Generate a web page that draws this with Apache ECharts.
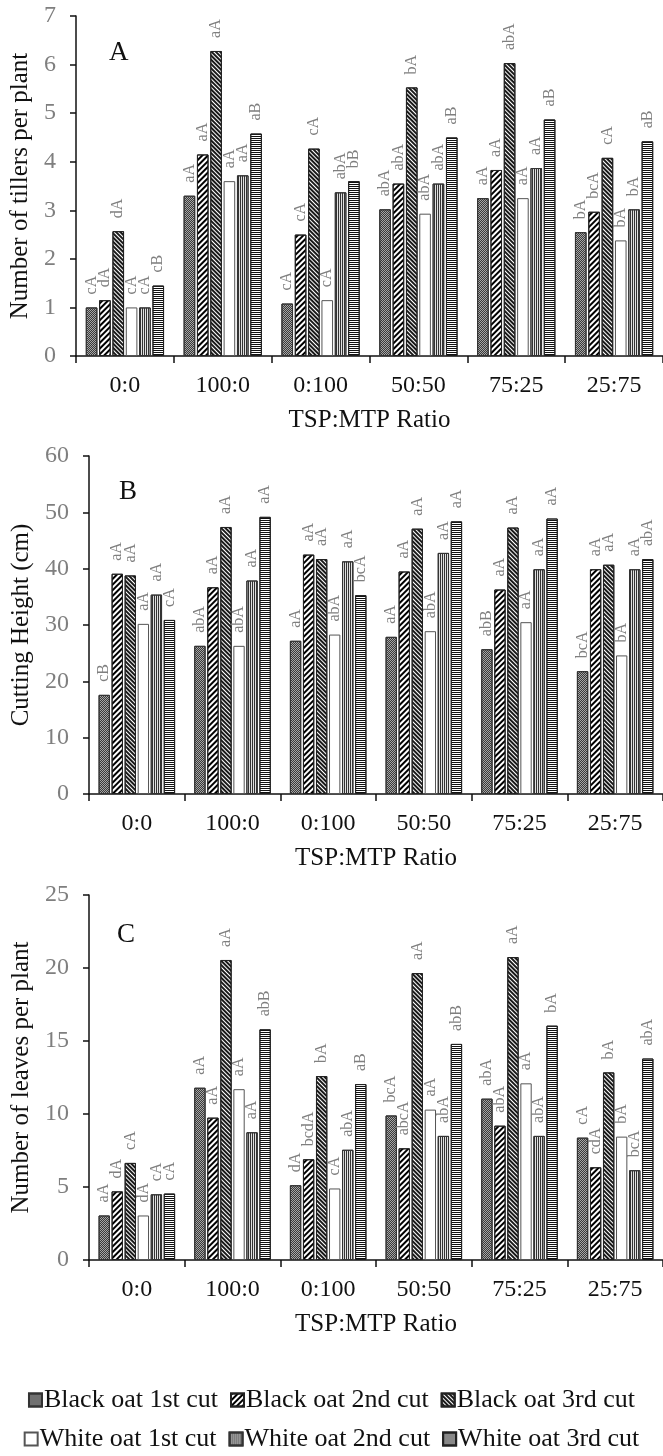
<!DOCTYPE html>
<html>
<head>
<meta charset="utf-8">
<script src="https://cdn.jsdelivr.net/npm/echarts@6/dist/echarts.min.js"></script>
</head>
<body style="margin: 0; background: #fff">
<div id="container" style="width: 663px; height: 1456px"></div>
<script type="text/javascript">
// category labels (TSP:MTP ratio) and series names
var categories = ['0:0', '100:0', '0:100', '50:50', '75:25', '25:75'];
var seriesNames = ['Black oat 1st cut', 'Black oat 2nd cut', 'Black oat 3rd cut',
                   'White oat 1st cut', 'White oat 2nd cut', 'White oat 3rd cut'];

// A - number of tillers per plant (one row per series)
var tillers = [
    [1.0, 3.3, 1.08, 3.02, 3.25, 2.55],
    [1.15, 4.15, 2.5, 3.55, 3.83, 2.97],
    [2.57, 6.28, 4.27, 5.53, 6.03, 4.08],
    [1.0, 3.6, 1.15, 2.93, 3.25, 2.38],
    [1.0, 3.72, 3.37, 3.55, 3.87, 3.02],
    [1.45, 4.58, 3.6, 4.5, 4.87, 4.42]
];
var tillersLetters = [
    ['cA', 'aA', 'cA', 'abA', 'aA', 'bA'],
    ['dA', 'aA', 'cA', 'abA', 'aA', 'bcA'],
    ['dA', 'aA', 'cA', 'bA', 'abA', 'cA'],
    ['cA', 'aA', 'cA', 'abA', 'aA', 'bA'],
    ['cA', 'aA', 'abA', 'abA', 'aA', 'bA'],
    ['cB', 'aB', 'bB', 'aB', 'aB', 'aB']
];

// B - cutting height (cm)
var height = [
    [17.6, 26.3, 27.2, 27.9, 25.7, 21.8],
    [39.1, 36.7, 42.5, 39.5, 36.3, 39.9],
    [38.8, 47.4, 41.7, 47.1, 47.3, 40.7],
    [30.2, 26.3, 28.3, 28.9, 30.5, 24.6],
    [35.4, 37.9, 41.3, 42.8, 39.9, 39.9],
    [30.9, 49.2, 35.3, 48.4, 48.9, 41.7]
];
var heightLetters = [
    ['cB', 'abA', 'aA', 'aA', 'abB', 'bcA'],
    ['aA', 'aA', 'aA', 'aA', 'aA', 'aA'],
    ['aA', 'aA', 'aA', 'aA', 'aA', 'aA'],
    ['aA', 'abA', 'abA', 'abA', 'aA', 'bA'],
    ['aA', 'aA', 'aA', 'aA', 'aA', 'aA'],
    ['cA', 'aA', 'bcA', 'aA', 'aA', 'abA']
];

// C - number of leaves per plant
var leaves = [
    [3.05, 11.8, 5.12, 9.9, 11.05, 8.38],
    [4.7, 9.75, 6.9, 7.65, 9.2, 6.35],
    [6.65, 20.55, 12.6, 19.65, 20.75, 12.85],
    [3.05, 11.7, 4.9, 10.3, 12.1, 8.45],
    [4.5, 8.75, 7.55, 8.5, 8.5, 6.15],
    [4.55, 15.8, 12.05, 14.8, 16.05, 13.8]
];
var leavesLetters = [
    ['aA', 'aA', 'dA', 'bcA', 'abA', 'cA'],
    ['dA', 'aA', 'bcdA', 'abcA', 'abA', 'cdA'],
    ['cA', 'aA', 'bA', 'aA', 'aA', 'bA'],
    ['dA', 'aA', 'cA', 'aA', 'aA', 'bA'],
    ['cA', 'aA', 'abA', 'abA', 'abA', 'bcA'],
    ['cA', 'abB', 'aB', 'abB', 'bA', 'abA']
];

var font = 'Liberation Serif, Times New Roman, serif';

// hatch patterns for each series
var fills = ['#a6a6a6', '#fff', '#fff', '#fff', '#e0e0e0', '#fff'];
var borders = ['#333', '#222', '#222', '#555', '#333', '#222'];
var decals = [
    {symbol: 'rect', symbolSize: 1, dashArrayX: [[1, 1], [0, 1, 1, 0]], dashArrayY: [1, 0], color: '#3a3a3a'},
    {symbol: 'rect', symbolSize: 1, dashArrayX: [1, 0], dashArrayY: [2, 2], rotation: -Math.PI / 4, color: '#000'},
    {symbol: 'rect', symbolSize: 1, dashArrayX: [1, 0], dashArrayY: [2, 1], rotation: Math.PI / 4, color: '#1a1a1a'},
    null,
    {symbol: 'rect', symbolSize: 1, dashArrayX: [1, 1], dashArrayY: [1, 0], color: '#333'},
    {symbol: 'rect', symbolSize: 1, dashArrayX: [1, 0], dashArrayY: [1, 1], color: '#111'}
];

var panels = [
    {values: tillers, letters: tillersLetters, name: 'Number of tillers per plant', max: 7, interval: 1,
     grid: {left: 76, right: -3, top: 16, height: 340}, nameGap: 41},
    {values: height, letters: heightLetters, name: 'Cutting Height (cm)', max: 60, interval: 10,
     grid: {left: 89, right: -1, top: 456, height: 338}, nameGap: 54},
    {values: leaves, letters: leavesLetters, name: 'Number of leaves per plant', max: 25, interval: 5,
     grid: {left: 89, right: 0, top: 895, height: 365}, nameGap: 54}
];

var grids = [], xAxes = [], yAxes = [], series = [];
panels.forEach(function (p, k) {
    grids.push(p.grid);
    xAxes.push({
        type: 'category', gridIndex: k, data: categories,
        name: 'TSP:MTP Ratio', nameLocation: 'middle', nameGap: 52,
        nameTextStyle: {fontFamily: font, fontSize: 25, color: '#111'},
        axisLine: {lineStyle: {color: '#111', width: 1.5}},
        axisTick: {show: true, length: 7, lineStyle: {color: '#111', width: 1.5}},
        axisLabel: {fontFamily: font, fontSize: 24, color: '#111', margin: 18, interval: 0},
        splitLine: {show: false}
    });
    yAxes.push({
        type: 'value', gridIndex: k, min: 0, max: p.max, interval: p.interval,
        name: p.name, nameLocation: 'middle', nameGap: p.nameGap,
        nameTextStyle: {fontFamily: font, fontSize: 25, color: '#111'},
        axisLine: {show: true, lineStyle: {color: '#111', width: 1.5}},
        axisTick: {show: true, length: 6, lineStyle: {color: '#111', width: 1.5}},
        axisLabel: {fontFamily: font, fontSize: 24, color: '#7f7f7f', margin: 20},
        splitLine: {show: false}
    });
    p.values.forEach(function (vals, i) {
        var letters = p.letters[i];
        series.push({
            name: seriesNames[i], type: 'bar', xAxisIndex: k, yAxisIndex: k,
            data: vals,
            barCategoryGap: '20%', barGap: '15%',
            itemStyle: {color: fills[i], borderColor: borders[i], borderWidth: 1, decal: decals[i] || undefined},
            label: {
                show: true, position: 'top', rotate: 90, align: 'left', verticalAlign: 'middle',
                distance: 13, fontFamily: font, fontSize: 16, color: '#7f7f7f',
                formatter: function (d) { return letters[d.dataIndex]; }
            },
            emphasis: {disabled: true},
            animation: false
        });
    });
});

var dom = document.getElementById('container');
var myChart = echarts.init(dom, null, {renderer: 'canvas'});
var letterStyle = {fontFamily: font, fontSize: 27, fontWeight: 'normal', color: '#111'};
var legendText = {fontFamily: font, fontSize: 26, color: '#111', padding: [0, 0, 0, -3]};
var option = {
    backgroundColor: '#fff',
    animation: false,
    title: [
        {text: 'A', left: 109, top: 39, padding: 0, textStyle: letterStyle},
        {text: 'B', left: 119, top: 478, padding: 0, textStyle: letterStyle},
        {text: 'C', left: 117, top: 921, padding: 0, textStyle: letterStyle}
    ],
    legend: [
        {data: seriesNames.slice(0, 3), icon: 'rect', left: 'center', top: 1382, itemWidth: 13, itemHeight: 13,
         itemGap: 12, textStyle: legendText},
        {data: seriesNames.slice(3), icon: 'rect', left: 'center', top: 1421, itemWidth: 13, itemHeight: 13,
         itemGap: 12, textStyle: legendText}
    ],
    grid: grids,
    xAxis: xAxes,
    yAxis: yAxes,
    series: series
};
myChart.setOption(option);
</script>
</body>
</html>
